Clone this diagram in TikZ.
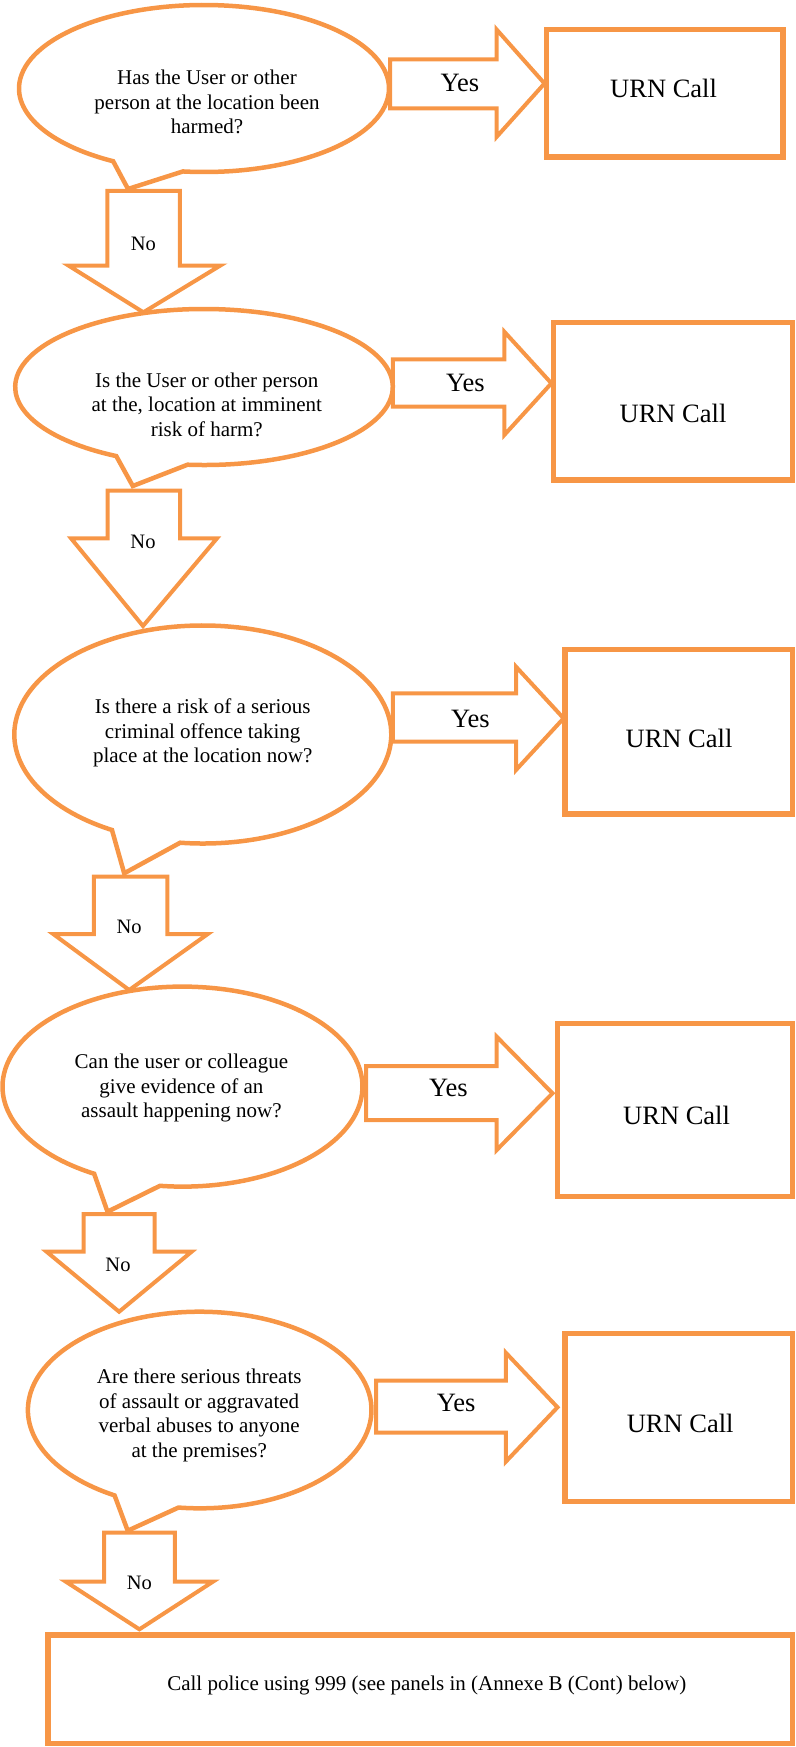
\documentclass[tikz,border=0pt]{standalone}
\usepackage{fontspec}
\setmainfont{Liberation Serif}
\definecolor{accent}{HTML}{F79646}
% callout bubble: cx cy rx ry startangle endangle tipx tipy
\newcommand{\qbub}[8]{%
  \draw[bubble] ({#1+#3*cos(#5)},{#2+#4*sin(#5)}) arc[start angle=#5, end angle=#6, x radius=#3, y radius=#4] -- (#7,#8) -- cycle;}
% right block arrow: x0 shafttop shaftbottom headx headtop headbottom tipx tipy
\newcommand{\yesarrow}[8]{%
  \draw[barrow] (#1,#2) -- (#4,#2) -- (#4,#5) -- (#7,#8) -- (#4,#6) -- (#4,#3) -- (#1,#3) -- cycle;}
% down block arrow: shaftleft shaftright top shoulder headleft headright tipx tipy
\newcommand{\noarrow}[8]{%
  \draw[barrow] (#1,#3) -- (#2,#3) -- (#2,#4) -- (#6,#4) -- (#7,#8) -- (#5,#4) -- (#1,#4) -- cycle;}
\begin{document}
\begin{tikzpicture}[x=1pt,y=-1pt,line join=miter,
  bubble/.style={draw=accent,line width=4.5pt},
  barrow/.style={draw=accent,line width=4pt},
  urnbox/.style={draw=accent,line width=5.5pt,rectangle,inner sep=0pt,outer sep=0pt},
  qtext/.style={align=center,font=\fontsize{21}{24.5}\selectfont,inner sep=0pt},
  bigtext/.style={font=\fontsize{26.5}{30}\selectfont,inner sep=0pt},
  notext/.style={font=\fontsize{20.5}{24}\selectfont,inner sep=0pt}]
\useasboundingbox (0,0) rectangle (795,1747);

% ---- block 1
\qbub{204}{88.5}{185}{83.5}{96.55}{-240.6}{128}{189}
\node[qtext] (q1) at (207,102) {Has the User or other\\person at the location been\\harmed?};
\yesarrow{390}{59.5}{108.5}{496.5}{29.4}{137}{544.5}{83.5}
\node[bigtext] (y1) at (460,82.7) {Yes};
\node[urnbox,minimum width=236.3pt,minimum height=127.5pt] (u1) at (664.85,93.25) {};
\node[bigtext] (u1t) at (663.6,88.5) {URN Call};
\noarrow{107.4}{179.8}{191}{265.5}{68.4}{220.4}{143.4}{312.3}
\node[notext] (n1) at (143.4,243.8) {No};

% ---- block 2
\qbub{204}{387}{188.8}{78}{95}{-242.3}{132.8}{486}
\node[qtext] (q2) at (206.8,404.5) {Is the User or other person\\at the, location at imminent\\risk of harm?};
\yesarrow{392.8}{359.3}{406.7}{504.3}{331.7}{435}{551.4}{383.3}
\node[bigtext] (y2) at (465.3,382.7) {Yes};
\node[urnbox,minimum width=239pt,minimum height=157.5pt] (u2) at (673,401.25) {};
\node[bigtext] (u2t) at (673,413.3) {URN Call};
\noarrow{107.5}{180}{490.7}{538.3}{71}{217}{143}{626}
\node[notext] (n2) at (143,541.7) {No};

% ---- block 3
\qbub{202.8}{734.5}{188.5}{109}{96.9}{-241.2}{124.2}{873.3}
\node[qtext] (q3) at (202.7,733.3) {Is there a risk of a serious\\criminal offence taking\\place at the location now?};
\yesarrow{392.8}{693.3}{741.7}{516}{666.7}{770}{563.6}{718.3}
\node[bigtext] (y3) at (470.3,719.3) {Yes};
\node[urnbox,minimum width=227.5pt,minimum height=164.7pt] (u3) at (678.75,731.65) {};
\node[bigtext] (u3t) at (679,738.3) {URN Call};
\noarrow{93.8}{167.3}{876.7}{934}{53.2}{207.8}{129.2}{990}
\node[notext] (n3) at (129.2,926.7) {No};

% ---- block 4
\qbub{182.5}{1086.6}{180}{100}{97.2}{-240.6}{107.5}{1211.7}
\node[qtext] (q4) at (181.4,1088.3) {Can the user or colleague\\give evidence of an\\assault happening now?};
\yesarrow{366}{1066}{1120}{496.7}{1036.7}{1150}{552.5}{1093.3}
\node[bigtext] (y4) at (448.5,1088.3) {Yes};
\node[urnbox,minimum width=235pt,minimum height=173.4pt] (u4) at (675,1110) {};
\node[bigtext] (u4t) at (676.6,1115) {URN Call};
\noarrow{83.6}{154.6}{1214}{1251.7}{46.6}{191.6}{119.1}{1311.7}
\node[notext] (n4) at (118,1265) {No};

% ---- block 5
\qbub{199.7}{1410}{171.8}{98.3}{97.1}{-240.3}{127.7}{1530.7}
\node[qtext] (q5) at (199.2,1415.5) {Are there serious threats\\of assault or aggravated\\verbal abuses to anyone\\at the premises?};
\yesarrow{376}{1380.7}{1432.7}{505.8}{1352.7}{1461.7}{557.5}{1407.3}
\node[bigtext] (y5) at (456.2,1403.3) {Yes};
\node[urnbox,minimum width=227.5pt,minimum height=168.4pt] (u5) at (678.75,1417.5) {};
\node[bigtext] (u5t) at (680.2,1423.3) {URN Call};
\noarrow{104}{174.9}{1532.7}{1581.7}{65.9}{212.9}{139.4}{1629.3}
\node[notext] (n5) at (139.4,1583.3) {No};

% ---- final box
\node[urnbox,minimum width=744.5pt,minimum height=108.5pt] (police) at (420.25,1689.25) {};
\node[qtext] (policet) at (426.8,1685) {Call police using 999 (see panels in (Annexe B (Cont) below)};
\end{tikzpicture}
\end{document}
